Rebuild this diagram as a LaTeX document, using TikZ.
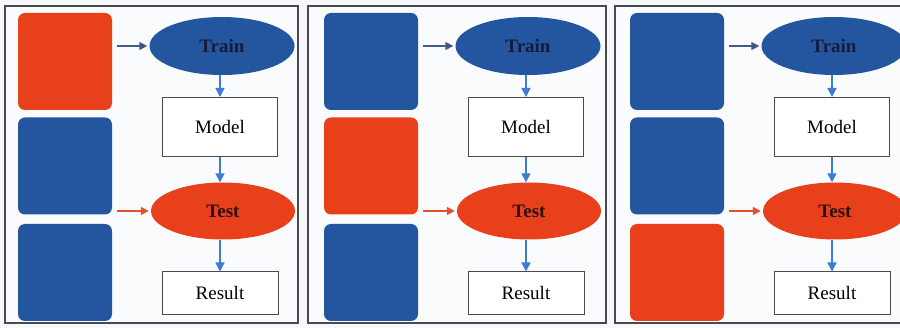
\documentclass[tikz,border=0pt]{standalone}
\usepackage{fontspec}
\setmainfont{Liberation Serif}
\usetikzlibrary{shapes.geometric,arrows.meta}

\definecolor{bgcol}{HTML}{F7F8FB}
\definecolor{framecol}{HTML}{4A4A4E}
\definecolor{bluefill}{HTML}{2456A0}
\definecolor{redfill}{HTML}{E9401C}
\definecolor{flowblue}{HTML}{3C7BD6}
\definecolor{feedblue}{HTML}{2B4C86}
\definecolor{feedred}{HTML}{E4502E}
\definecolor{inktrain}{HTML}{141C3A}
\definecolor{inktest}{HTML}{2A1010}

\tikzset{
  x=1pt, y=-1pt,
  panel/.style={draw=framecol, line width=1.1pt, fill=white!40!bgcol},
  fold/.style={rounded corners=7pt, minimum width=94pt, minimum height=97pt,
               inner sep=0pt},
  stage/.style={ellipse, inner sep=0pt, font=\fontsize{19}{21}\selectfont\bfseries},
  result/.style={draw=framecol, line width=1pt, fill=white, inner sep=0pt,
                 font=\fontsize{19}{21}\selectfont},
  flow/.style={draw=flowblue, line width=1.4pt,
               -{Triangle[length=9pt,width=9pt]}},
  feed/.style={line width=1.6pt, -{Triangle[length=8pt,width=8pt]},
               shorten <=5pt, shorten >=2pt},
}

\begin{document}
\begin{tikzpicture}
\useasboundingbox (0,0) rectangle (900,328);
\clip (0,0) rectangle (900,328);
\fill[bgcol] (0,0) rectangle (900,328);

\foreach \i/\dx/\fl/\fr in {1/0/5/298,2/306/2/300,3/612/3/298}{
  \begin{scope}[xshift=\dx]
    % panel frame
    \draw[panel] (\fl,6) rectangle (\fr,323);
    % three folds of the data, the test fold in red
    \foreach \j/\yc in {1/61.5,2/166,3/272.5}{
      \ifnum\i=\j \def\foldcol{redfill}\else\def\foldcol{bluefill}\fi
      \node[fold, fill=\foldcol] (b\i\j) at (65,\yc) {};
    }
    % training / testing pipeline
    \node[stage, fill=bluefill, text=inktrain, minimum width=145pt,
          minimum height=58pt] (train\i) at (222,46) {Train};
    \node[result, minimum width=115pt, minimum height=59pt]
          (model\i) at (220,127) {Model};
    \node[stage, fill=redfill, text=inktest, minimum width=144pt,
          minimum height=57pt] (test\i) at (223,211) {Test};
    \node[result, minimum width=116pt, minimum height=43pt]
          (res\i) at (220,293.5) {Result};
    % connectors
    \draw[feed, draw=feedblue!70!gray, -{Triangle[length=8pt,width=8pt,fill=feedblue]}]
      (b\i1.east |- train\i.west) -- (train\i.west);
    \draw[feed, draw=feedred] (b\i2.east |- test\i.west) -- (test\i.west);
    \draw[flow] (train\i.south -| model\i.north) -- (model\i.north);
    \draw[flow] (model\i.south) -- (model\i.south |- test\i.north);
    \draw[flow] (test\i.south -| res\i.north) -- (res\i.north);
  \end{scope}
}
\end{tikzpicture}
\end{document}
